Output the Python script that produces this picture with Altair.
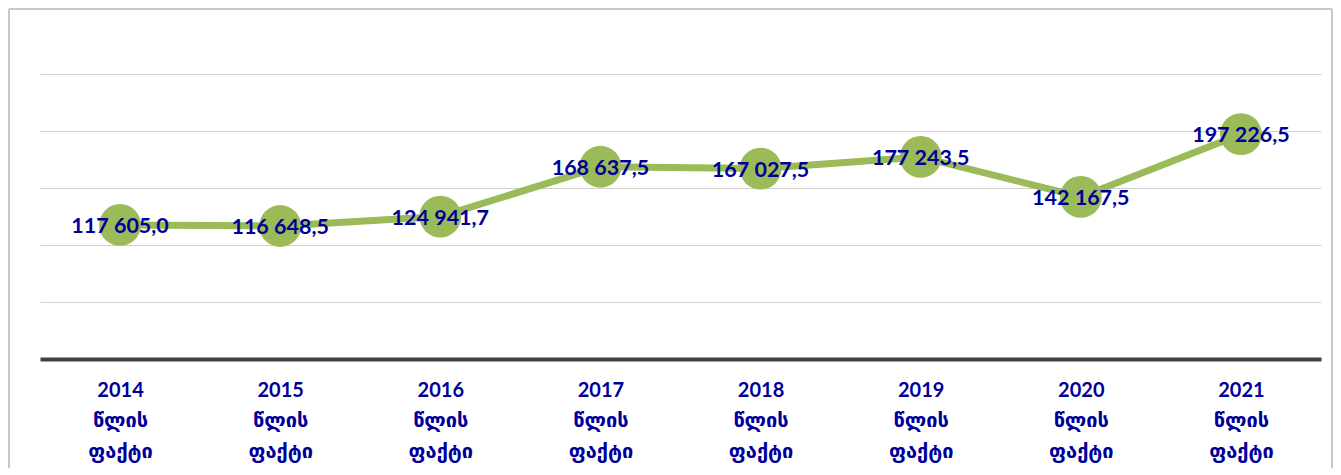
import altair as alt
import pandas as pd

categories = ["2014 წლის ფაქტი", "2015 წლის ფაქტი", "2016 წლის ფაქტი", "2017 წლის ფაქტი",
              "2018 წლის ფაქტი", "2019 წლის ფაქტი", "2020 წლის ფაქტი", "2021 წლის ფაქტი"]
values = [117605.0, 116648.5, 124941.7, 168637.5, 167027.5, 177243.5, 142167.5, 197226.5]


def fmt(v):
    s = f"{v:,.1f}"
    return s.replace(",", " ").replace(".", ",")


labels = [fmt(v) for v in values]
df = pd.DataFrame({"cat": categories, "val": values, "lab": labels})

W, H = 1281, 285
FONT = "Lato, DejaVu Sans, sans-serif"
BLUE = "#000099"
GREEN = "#9BBB59"
BORDER = "#C8C8C8"

x = alt.X("cat:N", sort=None, scale=alt.Scale(padding=0.5), title=None,
          axis=alt.Axis(labelAngle=0, labelExpr="split(datum.label, ' ')",
                        labelFont=FONT, labelFontSize=20, labelFontWeight="bold",
                        labelColor=BLUE, labelLineHeight=30.5, labelPadding=21,
                        ticks=False, domainColor="#404040", domainWidth=4, grid=False))
y = alt.Y("val:Q", title=None, scale=alt.Scale(domain=[0, 250000], nice=False),
          axis=alt.Axis(values=[0, 50000, 100000, 150000, 200000, 250000],
                        labels=False, ticks=False, domain=False,
                        grid=True, gridColor="#D0D0D0", gridWidth=1))

base = alt.Chart(df)
line = base.mark_line(color=GREEN, strokeWidth=7).encode(x=x, y=y)
pts = base.mark_circle(color=GREEN, opacity=1, size=1750).encode(x=x, y=y)
txt = base.mark_text(font=FONT, fontSize=21.5, fontWeight="bold", color=BLUE, dy=2).encode(
    x=x, y=y, text="lab:N")

one = alt.Chart(pd.DataFrame({"a": [0]}))
b_left = one.mark_rule(color=BORDER, strokeWidth=2).encode(
    x=alt.value(-31), y=alt.value(-65), y2=alt.value(H + 109))
b_right = one.mark_rule(color=BORDER, strokeWidth=2).encode(
    x=alt.value(W + 11), y=alt.value(-65), y2=alt.value(H + 109))
b_top = one.mark_rule(color=BORDER, strokeWidth=2).encode(
    x=alt.value(-31), x2=alt.value(W + 11), y=alt.value(-65))

chart = alt.layer(b_left, b_right, b_top, line, pts, txt).properties(
    width=W, height=H,
    autosize=alt.AutoSizeParams(type="none"),
    padding={"left": 32, "top": 66, "right": 12, "bottom": 109},
).configure_view(stroke=None)

chart.save("out.html", embed_options={"renderer": "svg", "actions": False})
